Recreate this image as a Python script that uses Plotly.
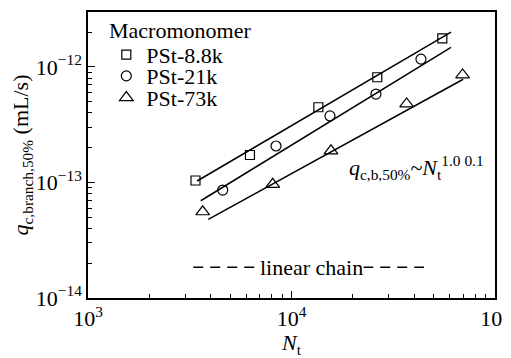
import plotly.graph_objects as go

# ---- data ----
x_sq = [3374, 6250, 13550, 26400, 55100]
y_sq = [1.04e-13, 1.73e-13, 4.48e-13, 8.15e-13, 1.77e-12]
x_ci = [4592, 8393, 15450, 26000, 43260]
y_ci = [8.6e-14, 2.07e-13, 3.77e-13, 5.83e-13, 1.17e-12]
x_tr = [3660, 8085, 15630, 36800, 69300]
y_tr = [5.58e-14, 9.65e-14, 1.88e-13, 4.79e-13, 8.53e-13]

fit_sq_x = [3437, 60800]
fit_sq_y = [1.03e-13, 2.0e-12]
fit_ci_x = [3582, 60800]
fit_ci_y = [6.95e-14, 1.48e-12]
fit_tr_x = [3900, 69800]
fit_tr_y = [4.8e-14, 7.83e-13]

linear_x = [3290, 44760]
linear_y = [1.85e-14, 1.85e-14]

series_names = ["PSt-8.8k", "PSt-21k", "PSt-73k"]
x_tickvals = [1e3, 1e4, 1e5]
x_ticktext = ["10<sup>3</sup>", "10<sup>4</sup>", "10<sup>5</sup>"]
y_tickvals = [1e-14, 1e-13, 1e-12]
y_ticktext = ["10<sup>\u221214</sup>", "10<sup>\u221213</sup>", "10<sup>\u221212</sup>"]

FONT = "Liberation Serif, Times New Roman, serif"
FS = 22
fig = go.Figure()

line_style = dict(color="black", width=1.5)
for fx, fy in [(fit_sq_x, fit_sq_y), (fit_ci_x, fit_ci_y), (fit_tr_x, fit_tr_y)]:
    fig.add_trace(go.Scatter(x=fx, y=fy, mode="lines", line=line_style,
                             showlegend=False, hoverinfo="skip"))

fig.add_trace(go.Scatter(x=linear_x, y=linear_y, mode="lines",
                         line=dict(color="black", width=1.5, dash="10px,7px"),
                         showlegend=False, hoverinfo="skip"))

marker_line = dict(color="black", width=1.2)
fig.add_trace(go.Scatter(x=x_sq, y=y_sq, mode="markers", name=series_names[0],
                         marker=dict(symbol="square-open", size=9, color="black", line=marker_line),
                         legend="legend"))
fig.add_trace(go.Scatter(x=x_ci, y=y_ci, mode="markers", name=series_names[1],
                         marker=dict(symbol="circle-open", size=10, color="black", line=marker_line),
                         legend="legend2"))
fig.add_trace(go.Scatter(x=x_tr, y=y_tr, mode="markers", name=series_names[2],
                         marker=dict(symbol="triangle-up-open", size=12, color="black", line=marker_line),
                         legend="legend3"))

axis_common = dict(
    type="log", showline=True, linecolor="black", linewidth=1.5, mirror=True,
    ticks="inside", ticklen=7, tickwidth=1.2, tickcolor="black",
    showgrid=False, zeroline=False, automargin=False, ticklabeloverflow="allow",
    tickfont=dict(family=FONT, size=FS, color="black"),
    minor=dict(ticks="inside", ticklen=4, tickwidth=1.2, tickcolor="black",
               dtick="D1", showgrid=False),
)

legend_common = dict(xanchor="left", yanchor="middle", x=0.045,
                     font=dict(family=FONT, size=FS),
                     bgcolor="rgba(0,0,0,0)", borderwidth=0)

# page body has an 8px margin: figure is shrunk so the plot area lands where the reference has it
fig.update_layout(
    width=503, height=350,
    margin=dict(l=80, r=16, t=4, b=60),
    plot_bgcolor="white", paper_bgcolor="white",
    font=dict(family=FONT, size=FS, color="black"),
    xaxis=dict(axis_common, range=[3, 5], tickmode="array",
               tickvals=x_tickvals, ticktext=x_ticktext,
               title=dict(text="<i>N</i><sub>t</sub>",
                          font=dict(family=FONT, size=FS))),
    yaxis=dict(axis_common, range=[-14, -11.524], tickmode="array",
               tickvals=y_tickvals, ticktext=y_ticktext,
               title=dict(text="<i>q</i><sub>c,branch,50%</sub> (mL/s)",
                          font=dict(family=FONT, size=FS))),
    legend=dict(legend_common, y=0.850),
    legend2=dict(legend_common, y=0.776),
    legend3=dict(legend_common, y=0.700),
)

fig.add_annotation(x=0.047, y=0.934, xref="paper", yref="paper",
                   xanchor="left", yanchor="middle", text="Macromonomer",
                   showarrow=False, font=dict(family=FONT, size=FS))
fig.add_annotation(x=4.096, y=-13.734, xref="x", yref="y",
                   text="linear chain", showarrow=False, bgcolor="white",
                   font=dict(family=FONT, size=FS), borderpad=0)
fig.add_annotation(x=4.273, y=-12.874, xref="x", yref="y", xanchor="left",
                   text="<i>q</i><sub>c,b,50%</sub>~<i>N</i><sub>t</sub><sup>1.0 0.1</sup>",
                   showarrow=False, font=dict(family=FONT, size=FS))

fig.write_html("out.html")
